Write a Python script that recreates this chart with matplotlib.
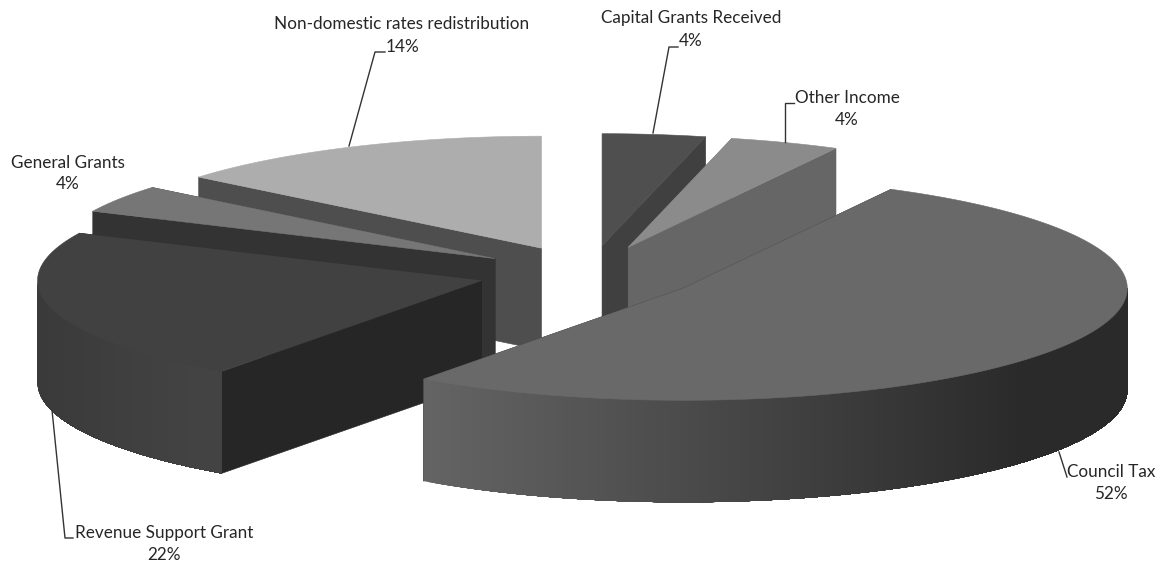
import numpy as np
import matplotlib
matplotlib.use("Agg")
import matplotlib.pyplot as plt

plt.rcParams['font.family'] = ['Lato', 'DejaVu Sans']

# clockwise from 12 o'clock, shares in percent
labels = ["Capital Grants Received", "Other Income", "Council Tax",
          "Revenue Support Grant", "General Grants", "Non-domestic rates redistribution"]
values = [3.75, 4.0, 52.2, 22.0, 4.0, 14.05]

top_colors = ["#4f4f4f", "#8b8b8b", "#696969", "#414141", "#767676", "#adadad"]
face_colors = ["#404040", "#666666", "#2a2a2a", "#262626", "#333333", "#4e4e4e"]
rim_left = [0x40, 0x66, 0x64, 0x3a, 0x33, 0x4e]
rim_right = [0x40, 0x66, 0x2a, 0x43, 0x33, 0x4e]

# back slices first
draw_order = [5, 0, 1, 4, 3, 2]

# pie geometry in image pixels
cx, cy = 589, 273.5
rx, ry = 444, 112
depth = 102
explode = 0.25

# label centre and the two line baselines, then the leader line
label_pos = [(691, 18, 41), (847, 98, 120), (1111, 472, 494),
             (164, 533, 555), (68, 163, 184), (402, 24, 47)]
leaders = [[(653, 133), (669, 47), (678, 47)],
           [(785, 142), (785, 103), (794, 103)],
           [(1059, 452), (1067, 477)],
           [(52, 410), (65, 538), (73, 538)],
           [],
           [(349, 146), (375, 52), (385, 52)]]


def rim_point(ox, oy, t):
    return ox + rx * np.cos(t), oy - ry * np.sin(t)


def draw_slice(ax, i, start, end):
    z = draw_order.index(i) * 3
    mid = np.radians((start + end) / 2)
    ox = cx + explode * rx * np.cos(mid)
    oy = cy - explode * ry * np.sin(mid)

    # radial side walls, the one further back first
    walls = []
    for ang in (start, end):
        x, y = rim_point(ox, oy, np.radians(ang))
        if abs(x - ox) > 1:
            walls.append((oy + y, x, y))
    for _, x, y in sorted(walls):
        ax.fill([ox, x, x, ox], [oy, y, y + depth, oy + depth],
                color=face_colors[i], lw=0.4, zorder=z + 1)

    # outer wall only on the front half of the pie, painted left to right
    if start > -180 and end < 0:
        steps = np.linspace(max(end, -180), min(start, 0), 200)
        px, py = rim_point(ox, oy, np.radians(steps))
        x_min, x_max = px.min(), px.max()
        for k in range(len(steps) - 1):
            frac = min(1, (px[k] - x_min) / (0.85 * (x_max - x_min)))
            g = (rim_left[i] + (rim_right[i] - rim_left[i]) * frac) / 255
            ax.fill(np.r_[px[k:], px[k:][::-1]], np.r_[py[k:], py[k:][::-1] + depth],
                    color=(g, g, g), lw=0, zorder=z + 2)

    # top face
    t = np.radians(np.linspace(start, end, 200))
    x, y = rim_point(ox, oy, t)
    ax.fill(np.r_[ox, x], np.r_[oy, y], color=top_colors[i], lw=0.4, zorder=z + 3)


fig = plt.figure(figsize=(11.62, 5.65), dpi=100)
ax = fig.add_axes([0, 0, 1, 1])
ax.set_xlim(0, 1162)
ax.set_ylim(565, 0)
ax.axis("off")

edges = 90 - 360 * np.cumsum(np.r_[0, values]) / sum(values)
for i in range(len(values)):
    draw_slice(ax, i, edges[i], edges[i + 1])

for i, name in enumerate(labels):
    xc, y1, y2 = label_pos[i]
    ax.text(xc, y1, name, ha="center", va="center", fontsize=12.3, color="#262626", zorder=40)
    ax.text(xc, y2, f"{round(values[i])}%", ha="center", va="center", fontsize=12.3,
            color="#262626", zorder=40)
    if leaders[i]:
        xs, ys = zip(*leaders[i])
        ax.plot(xs, ys, color="#333333", lw=1, zorder=39)

fig.savefig("out.png", dpi=100)
